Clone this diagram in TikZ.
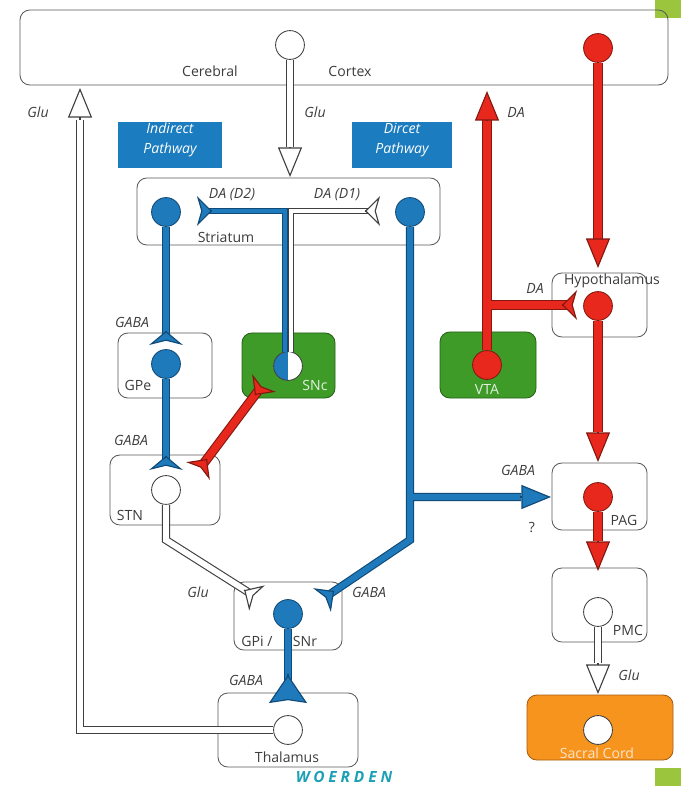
\documentclass[tikz,border=0pt]{standalone}
\usepackage{fontspec}
\setmainfont{Open Sans}
\usepackage{tikz}
\usetikzlibrary{arrows.meta,fit}

\definecolor{nblue}{RGB}{30,122,186}
\definecolor{nbluedk}{RGB}{16,74,120}
\definecolor{nred}{RGB}{232,40,28}
\definecolor{nreddk}{RGB}{130,24,16}
\definecolor{areagreen}{RGB}{62,155,40}
\definecolor{areagreendk}{RGB}{38,95,24}
\definecolor{cordorange}{RGB}{247,148,30}
\definecolor{cordorangedk}{RGB}{165,92,12}
\definecolor{pathblue}{RGB}{28,124,192}
\definecolor{cornergreen}{RGB}{155,197,61}
\definecolor{logoteal}{RGB}{27,160,181}
\definecolor{txtgray}{RGB}{60,60,60}

\tikzset{
  area/.style={draw=black!65, line width=0.6pt, rounded corners=7pt, inner sep=0pt},
  greenarea/.style={area, fill=areagreen, draw=areagreendk},
  pathway/.style={fill=pathblue, inner sep=0pt, align=center, text=white,
    font=\fontsize{10}{14}\selectfont\itshape},
  cell/.style={circle, draw=black!75, line width=0.6pt, fill=white,
    minimum size=20.5pt, inner sep=0pt},
  bluecell/.style={cell, fill=nblue, draw=nbluedk},
  redcell/.style={cell, fill=nred, draw=nreddk},
  halfcell/.style={cell, path picture={\fill[nblue] (path picture bounding box.north)
    rectangle (path picture bounding box.south west);}},
  tube/.style={line width=0.8pt, double distance=4.2pt},
  whitetube/.style={tube, draw=black!75, double=white},
  bluetube/.style={tube, draw=nbluedk, double=nblue},
  redtube/.style={line width=0.8pt, double distance=5.2pt, draw=nreddk, double=nred},
  thintube/.style={line width=0.7pt, double distance=2.8pt},
  head/.style={line width=0.8pt, -{Triangle[length=21pt, width=17pt, fill=#1]}},
  fork/.style={line width=0.8pt, -{Stealth[reversed, length=10.7pt, width=21pt, inset=3pt, fill=#1]}},
  widefork/.style={line width=0.8pt, -{Stealth[reversed, length=10pt, width=24pt, inset=3pt, fill=#1]}},
  bigfork/.style={line width=0.8pt, -{Stealth[reversed, length=20pt, width=27pt, inset=2pt, fill=#1]}},
  lbl/.style={font=\fontsize{10}{12}\selectfont\itshape}
}

\begin{document}
\begin{tikzpicture}[x=0.025cm, y=-0.025cm,
    every node/.style={font=\fontsize{10}{12}\selectfont, text=txtgray}]
  \useasboundingbox (0,0) rectangle (681,786);
  \fill[cornergreen] (655,0) rectangle (681,18);
  \fill[cornergreen] (655,768) rectangle (681,786);

  % areas
  \node[area, fit={(20,10) (668,85)}] (cortex) {};
  \node[pathway, fit={(118,122) (222,168)}] (indirect) {Indirect\\Pathway};
  \node[pathway, fit={(352,122) (452,168)}] (direct) {Dircet\\Pathway};
  \node[area, fit={(137,178) (440,245)}] (striatum) {};
  \node[area, fit={(118,333) (212,398)}] (gpe) {};
  \node[greenarea, fit={(242,333) (335,398)}] (snc) {};
  \node[greenarea, fit={(440,332) (536,398)}] (vta) {};
  \node[area, fit={(552,273) (647,337)}] (hypo) {};
  \node[area, fit={(110,455) (220,525)}] (stn) {};
  \node[area, fit={(552,463) (647,530)}] (pag) {};
  \node[area, fit={(234,582) (342,650)}] (gpi) {};
  \node[area, fit={(552,568) (647,642)}] (pmc) {};
  \node[area, fit={(218,693) (358,767)}] (thal) {};
  \node[area, fill=cordorange, draw=cordorangedk, fit={(527,695) (673,760)}] (sacral) {};

  % area names
  \node (tCerebral) at (210,71) {Cerebral};
  \node (tCortex) at (350,71) {Cortex};
  \node (tStriatum) at (226,237) {Striatum};
  \node (tGPe) at (138,385) {GPe};
  \node[text=white!85!areagreen] (tSNc) at (315,385) {SNc};
  \node[text=white!85!areagreen] (tVTA) at (487,389) {VTA};
  \node (tHypo) at (612,281) {Hypothalamus};
  \node (tSTN) at (130,515) {STN};
  \node (tPAG) at (624,520) {PAG};
  \node (tGPi) at (257,641) {GPi /};
  \node (tSNr) at (305,641) {SNr};
  \node (tPMC) at (628,630) {PMC};
  \node (tThal) at (287,757) {Thalamus};
  \node[text=white!75!cordorange] (tSacral) at (597,753) {Sacral Cord};

  % neurons
  \node[cell] (ctxA) at (290,45) {};
  \node[redcell] (ctxB) at (598,48) {};
  \node[bluecell] (strL) at (166,212) {};
  \node[bluecell] (strR) at (410,212) {};
  \node[bluecell] (gpeN) at (166,364) {};
  \node[halfcell] (sncN) at (288,366) {};
  \node[redcell] (vtaN) at (487,365) {};
  \node[redcell] (hypoN) at (598,306) {};
  \node[cell] (stnN) at (166,490) {};
  \node[redcell] (pagN) at (598,497) {};
  \node[bluecell] (gpiN) at (288,614) {};
  \node[cell] (pmcN) at (598,612) {};
  \node[cell] (thalN) at (288,730) {};
  \node[cell] (sacN) at (598,730) {};

  % glutamate
  \draw[whitetube] (ctxA) -- (290,147);
  \draw[head=white, draw=black!75] (290,147) -- (290,177);
  \draw[whitetube] (thalN) -- (80,730) -- (80,120);
  \draw[head=white, draw=black!75] (80,120) -- (80,88);
  \draw[whitetube] (stnN) -- (166,540) -- (248,592);
  \draw[fork=white, draw=black!75] (244,590) -- (257,598);
  \draw[whitetube] (pmcN) -- (598,663);
  \draw[head=white, draw=black!75] (598,663) -- (598,694);

  % GABA
  \draw[bluetube] (strL) -- (166,336);
  \draw[widefork=nblue, draw=nbluedk] (166,331) -- (166,345);
  \draw[bluetube] (gpeN) -- (166,461);
  \draw[widefork=nblue, draw=nbluedk] (166,456) -- (166,470);
  \draw[bluetube] (strR) -- (410,540) -- (330,594) (410,497) -- (521,497);
  \draw[fork=nblue, draw=nbluedk] (334,591) -- (322,600);
  \draw[head=nblue, draw=nbluedk] (520,497) -- (551,497);
  \draw[bluetube] (gpiN) -- (288,682);
  \draw[bigfork=nblue, draw=nbluedk] (288,674) -- (288,703);

  % dopamine
  \draw[bluetube, thintube] (285,352) -- (285,211) -- (206,211);
  \draw[fork=nblue, draw=nbluedk] (212,211) -- (197,211);
  \draw[whitetube, thintube] (291,352) -- (291,211) -- (371,211);
  \draw[fork=white, draw=black!75] (365,211) -- (380,211);
  \draw[redtube] (vtaN) -- (487,120) (487,305) -- (568,305);
  \draw[head=nred, draw=nreddk] (487,120) -- (487,91);
  \draw[fork=nred, draw=nreddk] (562,305) -- (577,305);
  \draw[redtube] (204,463) -- (258,391);
  \draw[fork=nred, draw=nreddk] (255,395) -- (264,383);
  \draw[fork=nred, draw=nreddk] (207,459) -- (198,471);

  % descending
  \draw[redtube] (ctxB) -- (598,240);
  \draw[head=nred, draw=nreddk] (598,240) -- (598,268);
  \draw[redtube] (hypoN) -- (598,432);
  \draw[head=nred, draw=nreddk] (598,432) -- (598,462);
  \draw[redtube] (pagN) -- (598,541);
  \draw[head=nred, draw=nreddk] (598,541) -- (598,571);

  % transmitter labels
  \node[lbl] (lGluA) at (38,112) {Glu};
  \node[lbl] (lGluB) at (315,112) {Glu};
  \node[lbl] (lGluC) at (198,592) {Glu};
  \node[lbl] (lGluD) at (629,675) {Glu};
  \node[lbl] (lDAa) at (516,112) {DA};
  \node[lbl] (lDAb) at (535,288) {DA};
  \node[lbl] (lD2) at (232,195) {DA (D2)};
  \node[lbl] (lD1) at (337,195) {DA (D1)};
  \node[lbl] (lGabaA) at (132,322) {GABA};
  \node[lbl] (lGabaB) at (131,440) {GABA};
  \node[lbl] (lGabaC) at (518,470) {GABA};
  \node[lbl] (lGabaD) at (369,592) {GABA};
  \node[lbl] (lGabaE) at (246,680) {GABA};
  \node (lQ) at (532,528) {?};

  \node[font=\fontsize{11}{13}\selectfont\bfseries\itshape, text=logoteal] (logo)
    at (344,777) {\addfontfeature{LetterSpace=25}WOERDEN};
\end{tikzpicture}
\end{document}
